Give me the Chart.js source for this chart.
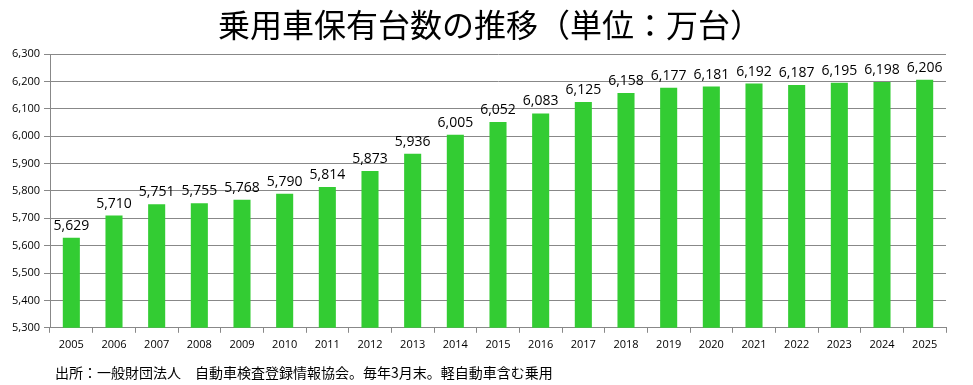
<!DOCTYPE html>
<html>
<head>
<meta charset="utf-8">
<script src="https://cdn.jsdelivr.net/npm/chart.js@4.4.1/dist/chart.umd.min.js"></script>
<style>
  body { margin: 0; background: #fff; }
  #wrap { width: 973px; height: 385px; position: relative; }
</style>
</head>
<body>
<div id="wrap"><canvas id="canvas" width="973" height="385"></canvas></div>
<script>
const years = ['2005','2006','2007','2008','2009','2010','2011','2012','2013','2014','2015',
               '2016','2017','2018','2019','2020','2021','2022','2023','2024','2025'];
const cars = [5629, 5710, 5751, 5755, 5768, 5790, 5814, 5873, 5936, 6005, 6052,
              6083, 6125, 6158, 6177, 6181, 6192, 6187, 6195, 6198, 6206];
const yMin = 5300;
const yMax = 6300;
const yStep = 100;
const titleText = '乗用車保有台数の推移（単位：万台）';
const sourceText = '出所：一般財団法人　自動車検査登録情報協会。毎年3月末。軽自動車含む乗用';

const numFont = "'Open Sans', 'DejaVu Sans', sans-serif";
const jpFont = "'Noto Sans CJK JP', sans-serif";

// value labels above each bar
const valueLabels = {
    id: 'valueLabels',
    afterDatasetsDraw(chart) {
        const ctx = chart.ctx;
        const meta = chart.getDatasetMeta(0);
        ctx.save();
        ctx.font = '14px ' + numFont;
        ctx.fillStyle = '#000';
        ctx.textAlign = 'center';
        ctx.textBaseline = 'bottom';
        meta.data.forEach((bar, i) => {
            ctx.fillText(cars[i].toLocaleString('en-US'), bar.x, bar.y - 5);
        });
        ctx.restore();
    }
};

// title and source line
const texts = {
    id: 'texts',
    afterDraw(chart) {
        const ctx = chart.ctx;
        ctx.save();
        ctx.fillStyle = '#000';
        ctx.textBaseline = 'middle';
        ctx.font = '32px ' + jpFont;
        ctx.textAlign = 'center';
        ctx.fillText(titleText, 490, 25);
        ctx.font = '14px ' + jpFont;
        ctx.textAlign = 'left';
        ctx.fillText(sourceText, 55, 373);
        ctx.restore();
    }
};

new Chart(document.getElementById('canvas').getContext('2d'), {
    type: 'bar',
    data: {
        labels: years,
        datasets: [{
            data: cars,
            backgroundColor: '#33cc33',
            categoryPercentage: 1,
            barPercentage: 0.4
        }]
    },
    options: {
        responsive: false,
        animation: false,
        layout: { padding: { top: 54, right: 27, bottom: 29, left: 0 } },
        plugins: {
            legend: { display: false },
            tooltip: { enabled: false }
        },
        scales: {
            y: {
                min: yMin,
                max: yMax,
                afterFit: (s) => { s.width = 50; },
                ticks: {
                    stepSize: yStep,
                    color: '#000',
                    font: { size: 11, family: numFont },
                    padding: 4,
                    callback: (v) => v.toLocaleString('en-US')
                },
                grid: { color: '#888', tickLength: 6 },
                border: { color: '#888' }
            },
            x: {
                ticks: {
                    color: '#000',
                    font: { size: 11, family: numFont },
                    padding: 5
                },
                grid: { offset: true, drawOnChartArea: false, color: '#888', tickLength: 5 },
                border: { color: '#888' }
            }
        }
    },
    plugins: [valueLabels, texts]
});
</script>
</body>
</html>
